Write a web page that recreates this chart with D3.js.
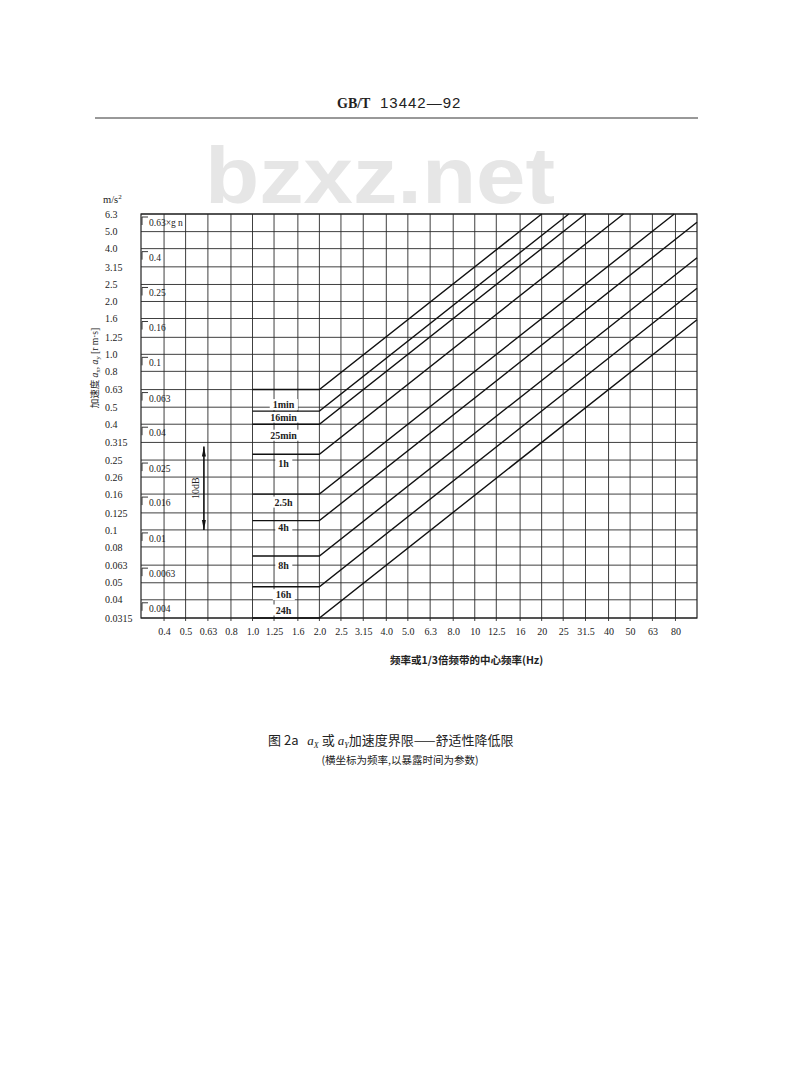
<!DOCTYPE html>
<html><head><meta charset="utf-8">
<script src="https://cdn.jsdelivr.net/npm/d3@7"></script>
<style>
body{margin:0;background:#fff;}
svg text{fill:#222;}
</style></head>
<body>
<svg id="c" width="800" height="1082"></svg>
<script>
// ---- data ----
const xTicks = [0.4,0.5,0.63,0.8,1.0,1.25,1.6,2.0,2.5,3.15,4.0,5.0,6.3,8.0,10,12.5,16,20,25,31.5,40,50,63,80];
const xTickLabels = ["0.4","0.5","0.63","0.8","1.0","1.25","1.6","2.0","2.5","3.15","4.0","5.0","6.3","8.0","10","12.5","16","20","25","31.5","40","50","63","80"];
const yTicks = [6.3,5.0,4.0,3.15,2.5,2.0,1.6,1.25,1.0,0.8,0.63,0.5,0.4,0.315,0.25,0.2,0.16,0.125,0.1,0.08,0.063,0.05,0.04,0.0315];
const yTickLabels = ["6.3","5.0","4.0","3.15","2.5","2.0","1.6","1.25","1.0","0.8","0.63","0.5","0.4","0.315","0.25","0.26","0.16","0.125","0.1","0.08","0.063","0.05","0.04","0.0315"];
const gValues = [6.3,4.0,2.5,1.6,1.0,0.63,0.4,0.25,0.16,0.1,0.063,0.04];
const gLabels = ["0.63\u00d7g n","0.4","0.25","0.16","0.1","0.063","0.04","0.025","0.016","0.01","0.0063","0.004"];
const durations = ["1min","16min","25min","1h","2.5h","4h","8h","16h","24h"];
// each exposure-time limit: [frequency Hz, acceleration m/s2] points
const limitPoints = [
  [[1,0.63],[2,0.63],[20,6.3]],
  [[1,0.475],[2,0.475],[26.5,6.3]],
  [[1,0.4],[2,0.4],[31.5,6.3]],
  [[1,0.27],[2,0.27],[46.7,6.3]],
  [[1,0.16],[2,0.16],[79,6.3]],
  [[1,0.113],[2,0.113],[100,5.65]],
  [[1,0.071],[2,0.071],[100,3.55]],
  [[1,0.0475],[2,0.0475],[100,2.38]],
  [[1,0.0315],[2,0.0315],[100,1.575]]
];
const xDomain = [0.315, 100];
const yDomain = [0.0315, 6.3];
const dbArrow = [0.315, 0.1];

// ---- drawing ----
const svg = d3.select("#c");
const serif = "'Liberation Serif','DejaVu Serif',serif";
const cjk = "'Noto Sans CJK SC',sans-serif";
const L = 141, R = 697, T = 214, B = 618;
const x = d3.scaleLog().domain(xDomain).range([L, R]);
const y = d3.scaleLog().domain(yDomain).range([B, T]);

// header
svg.append("text").attr("x", 337).attr("y", 108).attr("font-family", serif)
  .attr("font-weight", "bold").attr("font-size", 14).text("GB/T");
svg.append("text").attr("x", 380).attr("y", 108).attr("font-family", "'Liberation Sans',sans-serif")
  .attr("font-size", 15).attr("letter-spacing", 1).text("13442\u201492");
svg.append("line").attr("x1", 95).attr("x2", 698).attr("y1", 118).attr("y2", 118)
  .attr("stroke", "#333").attr("stroke-width", 1);

// watermark
svg.append("text").attr("x", 205).attr("y", 203).attr("font-family", "'Liberation Sans',Arial,sans-serif")
  .attr("font-weight", "bold").attr("font-size", 80).attr("textLength", 350)
  .attr("lengthAdjust", "spacingAndGlyphs").style("fill", "#e6e6e6").text("bzxz.net");

// grid
const grid = svg.append("g").attr("stroke", "#2a2a2a").attr("stroke-width", 0.9);
grid.selectAll(".v").data(xTicks).join("line")
  .attr("x1", d => x(d)).attr("x2", d => x(d)).attr("y1", T).attr("y2", B + 3);
grid.selectAll(".h").data(yTicks).join("line")
  .attr("x1", L).attr("x2", R).attr("y1", d => y(d)).attr("y2", d => y(d));
svg.append("rect").attr("x", L).attr("y", T).attr("width", R - L).attr("height", B - T)
  .attr("fill", "none").attr("stroke", "#222").attr("stroke-width", 1.2);

// axes labels
const xAxis = d3.axisBottom(x).tickValues(xTicks).tickSize(0).tickFormat((d, i) => xTickLabels[i]);
const gx = svg.append("g").attr("transform", `translate(0,${B + 7})`).call(xAxis);
gx.select(".domain").remove();
gx.selectAll("text").attr("font-family", serif).attr("font-size", 10).style("fill", "#222");

const yAxis = d3.axisLeft(y).tickValues(yTicks).tickSize(0).tickFormat((d, i) => yTickLabels[i]);
const gy = svg.append("g").attr("transform", `translate(105,0)`).call(yAxis);
gy.select(".domain").remove();
gy.selectAll("text").attr("text-anchor", "start").attr("x", 0).attr("dy", "0.32em")
  .attr("font-family", serif).attr("font-size", 10).style("fill", "#222");

// g-unit labels inside plot
const gl = svg.append("g");
gValues.forEach((v, i) => {
  const yy = y(v);
  gl.append("path").attr("d", `M${L + 7},${yy + 3}H${L + 1}V${yy + 11}`)
    .attr("fill", "none").attr("stroke", "#222").attr("stroke-width", 0.9);
  gl.append("text").attr("x", L + 8).attr("y", yy + 12).attr("font-family", serif)
    .attr("font-size", 9.5).text(gLabels[i]);
});

// duration label backgrounds + labels
const labelOffsets = [15, 6, 11, 9, 8, 7, 9, 8, -8];
const lab = svg.append("g");
durations.forEach((d, i) => {
  const yy = y(limitPoints[i][0][1]) + labelOffsets[i];
  const t = lab.append("text").attr("x", x(1.38)).attr("y", yy).attr("dy", "0.35em")
    .attr("text-anchor", "middle").attr("font-family", serif).attr("font-size", 10)
    .attr("font-weight", "bold").text(d);
  const bb = t.node().getBBox();
  lab.insert("rect", "text").attr("x", bb.x - 3).attr("y", bb.y).attr("width", bb.width + 6)
    .attr("height", bb.height).attr("fill", "#fff");
});

// limit curves
const line = d3.line().x(d => x(d[0])).y(d => y(d[1]));
svg.append("g").selectAll("path").data(limitPoints).join("path")
  .attr("d", line).attr("fill", "none").attr("stroke", "#111").attr("stroke-width", 1.4);

// 10 dB arrow
const ax = x(0.63) - 4;
const ya = y(dbArrow[0]) + 4, yb = y(dbArrow[1]);
svg.append("line").attr("x1", ax).attr("x2", ax).attr("y1", ya).attr("y2", yb)
  .attr("stroke", "#111").attr("stroke-width", 1.6);
svg.append("path").attr("d", `M${ax},${ya}L${ax - 2},${ya + 10}L${ax + 2},${ya + 10}Z`).attr("fill", "#111");
svg.append("path").attr("d", `M${ax},${yb}L${ax - 2},${yb - 10}L${ax + 2},${yb - 10}Z`).attr("fill", "#111");
svg.append("text").attr("transform", `translate(${ax - 5},${(ya + yb) / 2}) rotate(-90)`)
  .attr("text-anchor", "middle").attr("font-family", serif).attr("font-size", 10).text("10dB");

// units and axis titles
svg.append("text").attr("x", 103).attr("y", 203).attr("font-family", serif).attr("font-size", 10.5)
  .html('m/s<tspan dy="-4" font-size="7">2</tspan>');
const yt = svg.append("text").attr("transform", "translate(98,368) rotate(-90)")
  .attr("text-anchor", "middle").attr("font-size", 9.5).attr("font-family", cjk);
yt.append("tspan").text("加速度 ");
yt.append("tspan").attr("font-family", serif).attr("font-style", "italic").text("a");
yt.append("tspan").attr("font-family", serif).attr("font-size", 7).attr("dy", 2).text("x");
yt.append("tspan").attr("font-family", serif).attr("dy", -2).text(", ");
yt.append("tspan").attr("font-family", serif).attr("font-style", "italic").text("a");
yt.append("tspan").attr("font-family", serif).attr("font-size", 7).attr("dy", 2).text("y");
yt.append("tspan").attr("font-family", serif).attr("dy", -2).text(" [r m\u00b7s]");

svg.append("text").attr("x", 390).attr("y", 664).attr("font-family", cjk).attr("font-size", 10.5)
  .attr("font-weight", "bold").text("频率或1/3倍频带的中心频率(Hz)");

// caption
const cap = svg.append("text").attr("x", 268).attr("y", 745).attr("font-size", 13)
  .attr("font-family", "'Noto Sans CJK SC',serif");
cap.append("tspan").text("图 2a  ");
cap.append("tspan").attr("font-family", serif).attr("font-style", "italic").attr("dx", 6).text("a");
cap.append("tspan").attr("font-family", serif).attr("font-style", "italic").attr("font-size", 8).attr("dy", 3).text("X");
cap.append("tspan").attr("dy", -3).attr("dx", 3).text("或");
cap.append("tspan").attr("font-family", serif).attr("font-style", "italic").attr("dx", 3).text("a");
cap.append("tspan").attr("font-family", serif).attr("font-style", "italic").attr("font-size", 8).attr("dy", 3).text("Y");
cap.append("tspan").attr("dy", -3).text("加速度界限——舒适性降低限");
svg.append("text").attr("x", 400).attr("y", 764).attr("text-anchor", "middle").attr("font-size", 10.5)
  .attr("font-family", cjk).text("(横坐标为频率,以暴露时间为参数)");
</script>
</body></html>
